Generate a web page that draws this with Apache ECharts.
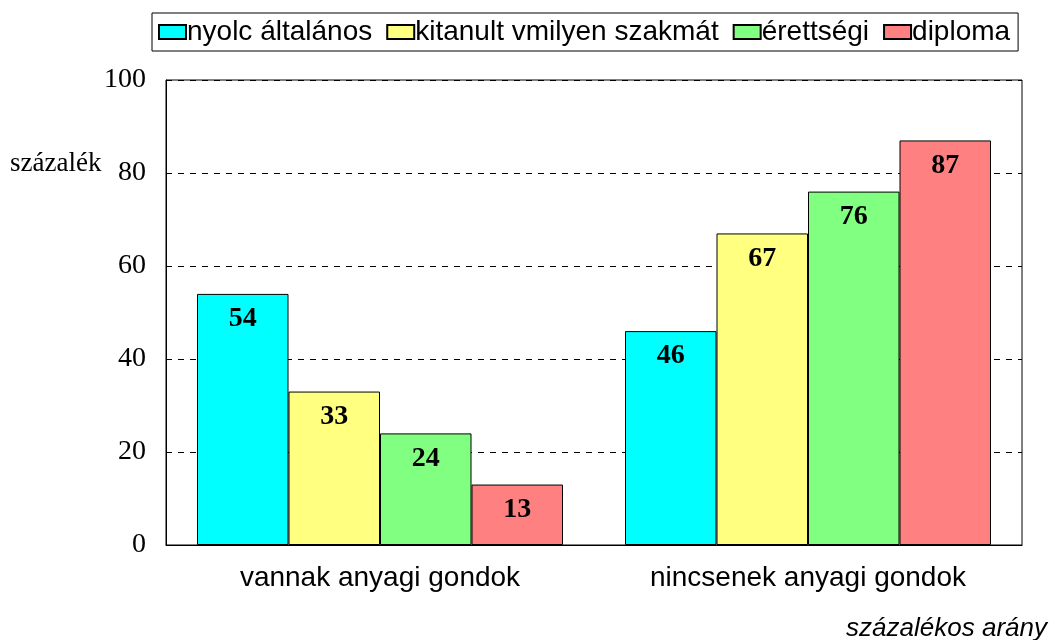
<!DOCTYPE html>
<html>
<head>
<meta charset="utf-8">
<script src="https://cdn.jsdelivr.net/npm/echarts@6/dist/echarts.min.js"></script>
<style>
  html, body { margin: 0; padding: 0; background: #fff; }
  #chart { width: 1059px; height: 640px; }
</style>
</head>
<body>
<div id="chart"></div>
<script>
const categories = ['vannak anyagi gondok', 'nincsenek anyagi gondok']
const seriesNames = ['nyolc általános', 'kitanult vmilyen szakmát', 'érettségi', 'diploma']
const nyolc = [54, 46]
const szakma = [33, 67]
const erettsegi = [24, 76]
const diploma = [13, 87]
const colors = ['#00FFFF', '#FFFF80', '#80FF80', '#FF8080']

const chart = echarts.init(document.getElementById('chart'))

const makeSeries = (name, data, i) => ({
  name: name,
  type: 'bar',
  data: data,
  barWidth: 91.5,
  barGap: '0%',
  itemStyle: { color: colors[i], borderColor: '#000', borderWidth: 1 },
  label: {
    show: true,
    position: 'insideTop',
    distance: 11,
    color: '#000',
    fontFamily: 'Liberation Serif',
    fontWeight: 'bold',
    fontSize: 28
  }
})

chart.setOption({
  animation: false,
  legend: {
    top: 13,
    left: 152,
    padding: [5, 8, 5, 6],
    icon: 'rect',
    itemWidth: 27,
    itemHeight: 14,
    itemGap: 14,
    borderColor: '#000',
    borderWidth: 1,
    textStyle: { fontFamily: 'Liberation Sans', fontSize: 28, color: '#000', padding: [0, 0, 0, -4] },
    data: seriesNames
  },
  grid: { left: 166, right: 37, top: 80, bottom: 95 },
  xAxis: {
    type: 'category',
    data: categories,
    axisTick: { show: false },
    axisLine: { lineStyle: { color: '#000' } },
    axisLabel: { fontFamily: 'Liberation Sans', fontSize: 28, color: '#000', margin: 19 }
  },
  yAxis: {
    type: 'value',
    min: 0,
    max: 100,
    interval: 20,
    axisLine: { show: true, lineStyle: { color: '#000' } },
    axisTick: { show: false },
    axisLabel: { fontFamily: 'Liberation Serif', fontSize: 28, color: '#000', margin: 20 },
    splitLine: { lineStyle: { color: '#000', type: [6, 6], width: 1 } }
  },
  graphic: [
    { type: 'rect', shape: { x: 166, y: 80, width: 856, height: 465 }, style: { fill: 'none', stroke: '#000', lineWidth: 1 }, z: 0 },
    { type: 'text', left: 10, top: 150, style: { text: 'százalék', font: '27px "Liberation Serif"', fill: '#000' } },
    { type: 'text', right: 12, top: 616, style: { text: 'százalékos arány', font: 'italic 26px "Liberation Sans"', fill: '#000' } }
  ],
  series: [
    makeSeries(seriesNames[0], nyolc, 0),
    makeSeries(seriesNames[1], szakma, 1),
    makeSeries(seriesNames[2], erettsegi, 2),
    makeSeries(seriesNames[3], diploma, 3)
  ]
})
</script>
</body>
</html>
